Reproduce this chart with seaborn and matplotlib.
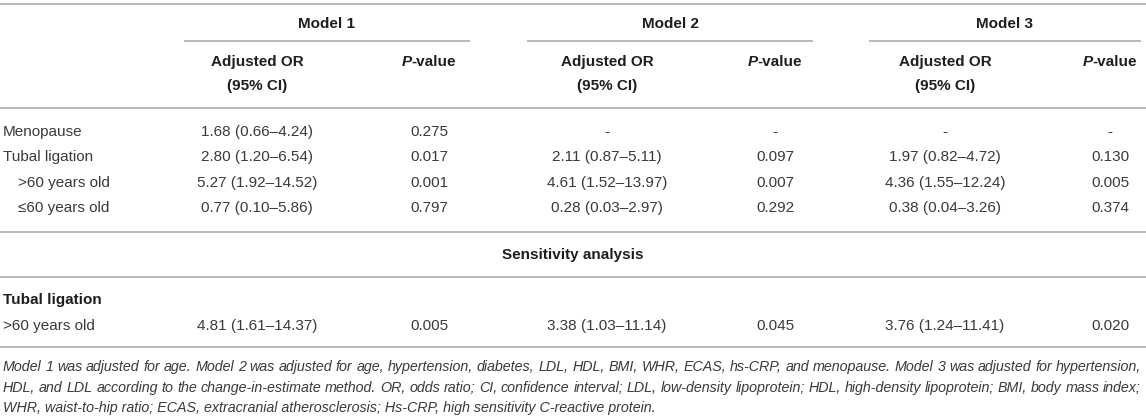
import matplotlib
matplotlib.use("Agg")
import matplotlib.pyplot as plt
import seaborn as sns

sns.set_theme(style="white")
plt.rcParams['font.family'] = ['Liberation Sans', 'DejaVu Sans']

# ---- table contents ----
models = ["Model 1", "Model 2", "Model 3"]
row_labels = ["Menopause", "Tubal ligation", ">60 years old", "≤60 years old"]
row_indent = [False, False, True, True]

m1_or = ["1.68 (0.66–4.24)", "2.80 (1.20–6.54)", "5.27 (1.92–14.52)", "0.77 (0.10–5.86)"]
m1_p = ["0.275", "0.017", "0.001", "0.797"]
m2_or = ["-", "2.11 (0.87–5.11)", "4.61 (1.52–13.97)", "0.28 (0.03–2.97)"]
m2_p = ["-", "0.097", "0.007", "0.292"]
m3_or = ["-", "1.97 (0.82–4.72)", "4.36 (1.55–12.24)", "0.38 (0.04–3.26)"]
m3_p = ["-", "0.130", "0.005", "0.374"]

sens_title = "Sensitivity analysis"
sens_group = "Tubal ligation"
sens_label = ">60 years old"
sens_or = ["4.81 (1.61–14.37)", "3.38 (1.03–11.14)", "3.76 (1.24–11.41)"]
sens_p = ["0.005", "0.045", "0.020"]

footnote = [
    "Model 1 was adjusted for age. Model 2 was adjusted for age, hypertension, diabetes, LDL, HDL, BMI, WHR, ECAS, hs-CRP, and menopause. Model 3 was adjusted for hypertension,",
    "HDL, and LDL according to the change-in-estimate method. OR, odds ratio; CI, confidence interval; LDL, low-density lipoprotein; HDL, high-density lipoprotein; BMI, body mass index;",
    "WHR, waist-to-hip ratio; ECAS, extracranial atherosclerosis; Hs-CRP, high sensitivity C-reactive protein.",
]

# ---- layout (pixels) ----
W, H = 1146, 416
or_x = [257, 607, 945]
p_x = [429, 775, 1110]
span = [(184, 470), (527, 813), (869, 1141)]
row_y = [132, 157, 183, 208]
fs = 11
fs_note = 10.3
txt = "#3a3a3a"
head = "#1e1e1e"
rule = "#b4b4b4"

fig = plt.figure(figsize=(W / 100, H / 100), dpi=100)
ax = fig.add_axes([0, 0, 1, 1])
ax.set_xlim(0, W)
ax.set_ylim(H, 0)
ax.axis("off")
renderer = fig.canvas.get_renderer()


def width(t):
    return t.get_window_extent(renderer).width


def pvalue_header(xc, y):
    a = ax.text(0, y, "P", fontsize=fs, fontweight="bold", fontstyle="italic",
                color=head, va="center", ha="left")
    b = ax.text(0, y, "-value", fontsize=fs, fontweight="bold",
                color=head, va="center", ha="left")
    wa, wb = width(a), width(b)
    x0 = xc - (wa + wb) / 2
    a.set_x(x0)
    b.set_x(x0 + wa)


# rules
for y in [4, 108, 232, 277, 347]:
    ax.hlines(y, 0, W, color=rule, lw=1.3)
for x0, x1 in span:
    ax.hlines(41, x0, x1, color=rule, lw=1.3)

# header
for i, m in enumerate(models):
    ax.text(sum(span[i]) / 2, 24, m, fontsize=fs, fontweight="bold",
            color=head, ha="center", va="center")
    ax.text(or_x[i], 62, "Adjusted OR", fontsize=fs, fontweight="bold",
            color=head, ha="center", va="center")
    ax.text(or_x[i], 86, "(95% CI)", fontsize=fs, fontweight="bold",
            color=head, ha="center", va="center")
    pvalue_header(p_x[i], 62)

# body
cols = [(m1_or, m1_p), (m2_or, m2_p), (m3_or, m3_p)]
for r, lab in enumerate(row_labels):
    ax.text(18 if row_indent[r] else 3, row_y[r], lab, fontsize=fs,
            color=txt, ha="left", va="center")
    for i, (ors, ps) in enumerate(cols):
        ax.text(or_x[i], row_y[r], ors[r], fontsize=fs, color=txt,
                ha="center", va="center")
        ax.text(p_x[i], row_y[r], ps[r], fontsize=fs, color=txt,
                ha="center", va="center")

# sensitivity block
ax.text(W / 2, 255, sens_title, fontsize=fs, fontweight="bold", color=head,
        ha="center", va="center")
ax.text(3, 300, sens_group, fontsize=fs, fontweight="bold", color=head,
        ha="left", va="center")
ax.text(3, 326, sens_label, fontsize=fs, color=txt, ha="left", va="center")
for i in range(3):
    ax.text(or_x[i], 326, sens_or[i], fontsize=fs, color=txt,
            ha="center", va="center")
    ax.text(p_x[i], 326, sens_p[i], fontsize=fs, color=txt,
            ha="center", va="center")

# footnote, justified like the journal layout (last line ragged)
fn_y = [367, 388, 408]
left, right = 3, 1141
for k, line in enumerate(footnote):
    if k == len(footnote) - 1:
        ax.text(left, fn_y[k], line, fontsize=fs_note, fontstyle="italic",
                color=txt, ha="left", va="center")
        continue
    words = line.split(" ")
    items = [ax.text(0, fn_y[k], w, fontsize=fs_note, fontstyle="italic",
                     color=txt, ha="left", va="center") for w in words]
    ws = [width(t) for t in items]
    gap = (right - left - sum(ws)) / (len(words) - 1)
    x = left
    for t, w in zip(items, ws):
        t.set_x(x)
        x += w + gap

fig.savefig("out.png", dpi=100)
